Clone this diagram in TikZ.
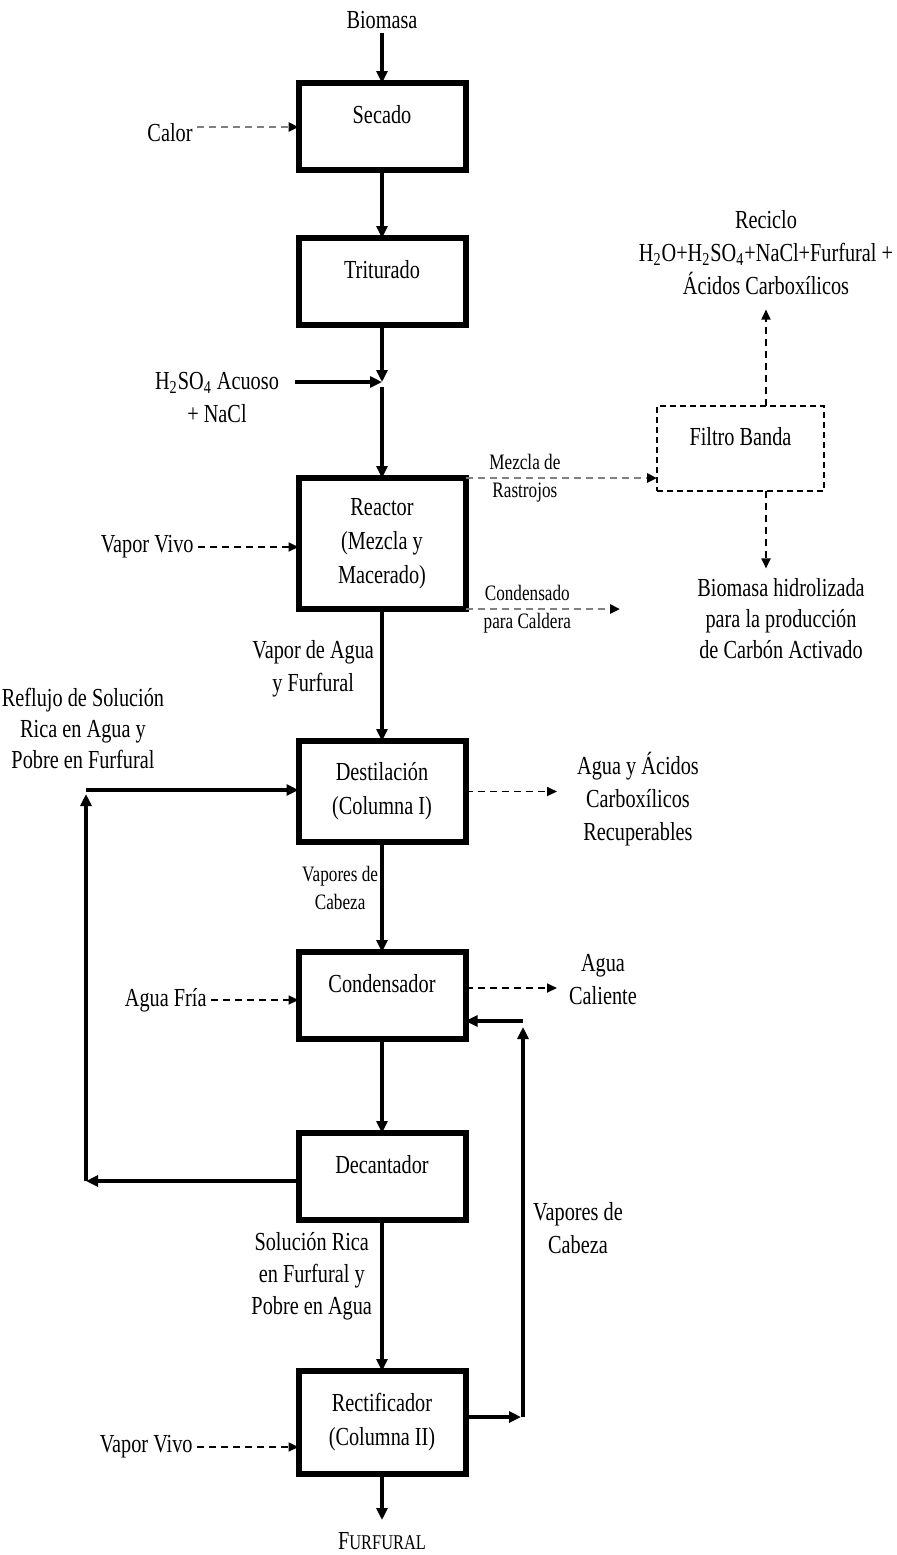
\documentclass[tikz,border=0pt]{standalone}
\usepackage{fontspec}
\setmainfont{Liberation Serif}[FakeStretch=0.78]
\usetikzlibrary{arrows.meta, positioning}
\definecolor{dashgray}{HTML}{808080}
\tikzset{
  unit/.style={
    rectangle, draw=black, line width=3pt, outer sep=0pt,
    minimum width=83.5pt, minimum height=43.5pt,
    align=center, font=\fontsize{13}{17}\selectfont,
  },
  upper/.style={text height=9pt, text depth=12pt},
  filterbox/.style={
    rectangle, draw=black, line width=0.8pt, dash pattern=on 3pt off 2pt,
    outer sep=0pt, minimum width=83.5pt, minimum height=42.5pt,
    font=\fontsize{13}{17}\selectfont,
  },
  lbl/.style={inner sep=2pt, align=center, text=black, font=\fontsize{13}{16.5}\selectfont},
  small/.style={inner sep=1pt, align=center, text=black, font=\fontsize{11}{14}\selectfont},
  flow/.style={-{Triangle[length=6pt,width=5.5pt]}, line width=2pt, black},
  steam/.style={-{Triangle[length=5pt,width=4.5pt]}, line width=0.9pt,
    dash pattern=on 3.5pt off 2.5pt, black},
  waste/.style={-{Triangle[length=5pt,width=4.5pt,color=black]}, line width=1.4pt,
    dash pattern=on 3.5pt off 2.5pt, dashgray},
}

\begin{document}
\begin{tikzpicture}[x=0.5pt, y=-0.5pt]
  \useasboundingbox (0,0) rectangle (896,1555);

  % main column
  \node[unit, upper] (secado) at (382,126.5) {Secado};
  \node[unit, upper, below=34pt of secado] (triturado) {Triturado};
  \node[unit, minimum height=65.5pt, below=76.5pt of triturado] (reactor) {Reactor\\(Mezcla y\\Macerado)};
  \node[unit, minimum height=50.5pt, below=66pt of reactor] (destilacion) {Destilación\\(Columna I)};
  \node[unit, upper, below=55pt of destilacion] (condensador) {Condensador};
  \node[unit, upper, below=47pt of condensador] (decantador) {Decantador};
  \node[unit, minimum height=51.5pt, below=75.5pt of decantador] (rectificador) {Rectificador\\(Columna II)};
  \node[filterbox, upper] (filtro) at (740.5,448.5) {Filtro Banda};

  % streams
  \node[lbl] (biomasa) at (382,20) {Biomasa};
  \node[lbl] (calor) at (170,133) {Calor};
  \node[lbl] (acid) at (217,398) {H\textsubscript{2}SO\textsubscript{4} Acuoso\\+ NaCl};
  \node[lbl, anchor=east] (vivoA) at (198,547) {Vapor Vivo};
  \node[lbl] (reciclo) at (766,253) {Reciclo\\H\textsubscript{2}O+H\textsubscript{2}SO\textsubscript{4}+NaCl+Furfural +\\Ácidos Carboxílicos};
  \node[lbl, font=\fontsize{13}{15.5}\selectfont] (hidro) at (781,619) {Biomasa hidrolizada\\para la producción\\de Carbón Activado};
  \node[lbl, font=\fontsize{13}{15.5}\selectfont] (reflujo) at (83,728) {Reflujo de Solución\\Rica en Agua y\\Pobre en Furfural};
  \node[lbl] (acidos) at (638,799) {Agua y Ácidos\\Carboxílicos\\Recuperables};
  \node[lbl, anchor=east] (fria) at (211,1000) {Agua Fría};
  \node[lbl] (caliente) at (603,980) {Agua\\Caliente};
  \node[lbl] (cabeza) at (578,1228) {Vapores de\\Cabeza};
  \node[lbl, anchor=east] (vivoB) at (197,1447) {Vapor Vivo};
  \node[lbl] (furfural) at (382,1541) {{\fontsize{13}{16}\selectfont F}{\fontsize{10.5}{16}\selectfont URFURAL}};

  \coordinate (mix) at (382,382);
  \coordinate (caldera) at (620,609);
  \coordinate (recup) at (557,791.5);
  \coordinate (calout) at (557,988);
  \coordinate (rtop) at (86,790);
  \coordinate (rbot) at (86,1181);
  \coordinate (vtop) at (523,1021);
  \coordinate (vbot) at (523,1417);

  \draw[flow] (biomasa) -- (secado);
  \draw[waste] ([yshift=3pt]calor.east) -- ([yshift=3pt]calor.east -| secado.west);
  \draw[flow] (secado) -- (triturado);
  \draw[flow] (triturado) -- (mix);
  \draw[flow] ([xshift=6pt]acid.east |- mix) -- (mix);
  \draw[flow] ([yshift=-2.5pt]mix) -- (reactor);
  \draw[steam] (vivoA) -- (vivoA -| reactor.west);
  \draw[waste] (reactor.north east) -- node[small, pos=0.31] (mezcla) {Mezcla de\\Rastrojos} (reactor.north east -| filtro.west);
  \draw[waste] (reactor.south east) -- node[small, pos=0.4] (condensado) {Condensado\\para Caldera} (caldera);
  \draw[steam] (filtro.north -| reciclo) -- ([yshift=-5pt]reciclo.south);
  \draw[steam] (filtro.south -| reciclo) -- ([yshift=3pt]reciclo |- hidro.north);
  \draw[flow] (reactor) -- node[lbl, left=1pt, pos=0.45] (vapagua) {Vapor de Agua\\y Furfural} (destilacion);
  \draw[steam] (destilacion.east) -- (recup);
  \draw[flow] (destilacion) -- node[small, left=0pt, pos=0.42] (vapcab) {Vapores de\\Cabeza} (condensador);
  \draw[steam] (fria) -- (fria -| condensador.west);
  \draw[steam] (condensador.east |- calout) -- (calout);
  \draw[flow] (condensador) -- (decantador);
  \draw[flow] (rbot -| decantador.west) -- (rbot);
  \draw[flow, shorten >=2pt] (rbot) -- (rtop);
  \draw[flow] (rtop) -- (rtop -| destilacion.west);
  \draw[flow] (decantador) -- node[lbl, left=2pt, pos=0.37, font=\fontsize{13}{16}\selectfont] (solucion) {Solución Rica\\en Furfural y\\Pobre en Agua} (rectificador);
  \draw[steam] (vivoB) -- (vivoB -| rectificador.west);
  \draw[flow, shorten >=1pt] (rectificador.east |- vbot) -- (vbot);
  \draw[flow, shorten >=3pt] (vbot) -- (vtop);
  \draw[flow] (vtop) -- (vtop -| condensador.east);
  \draw[flow, shorten >=4pt] (rectificador) -- (furfural);

\end{tikzpicture}
\end{document}
